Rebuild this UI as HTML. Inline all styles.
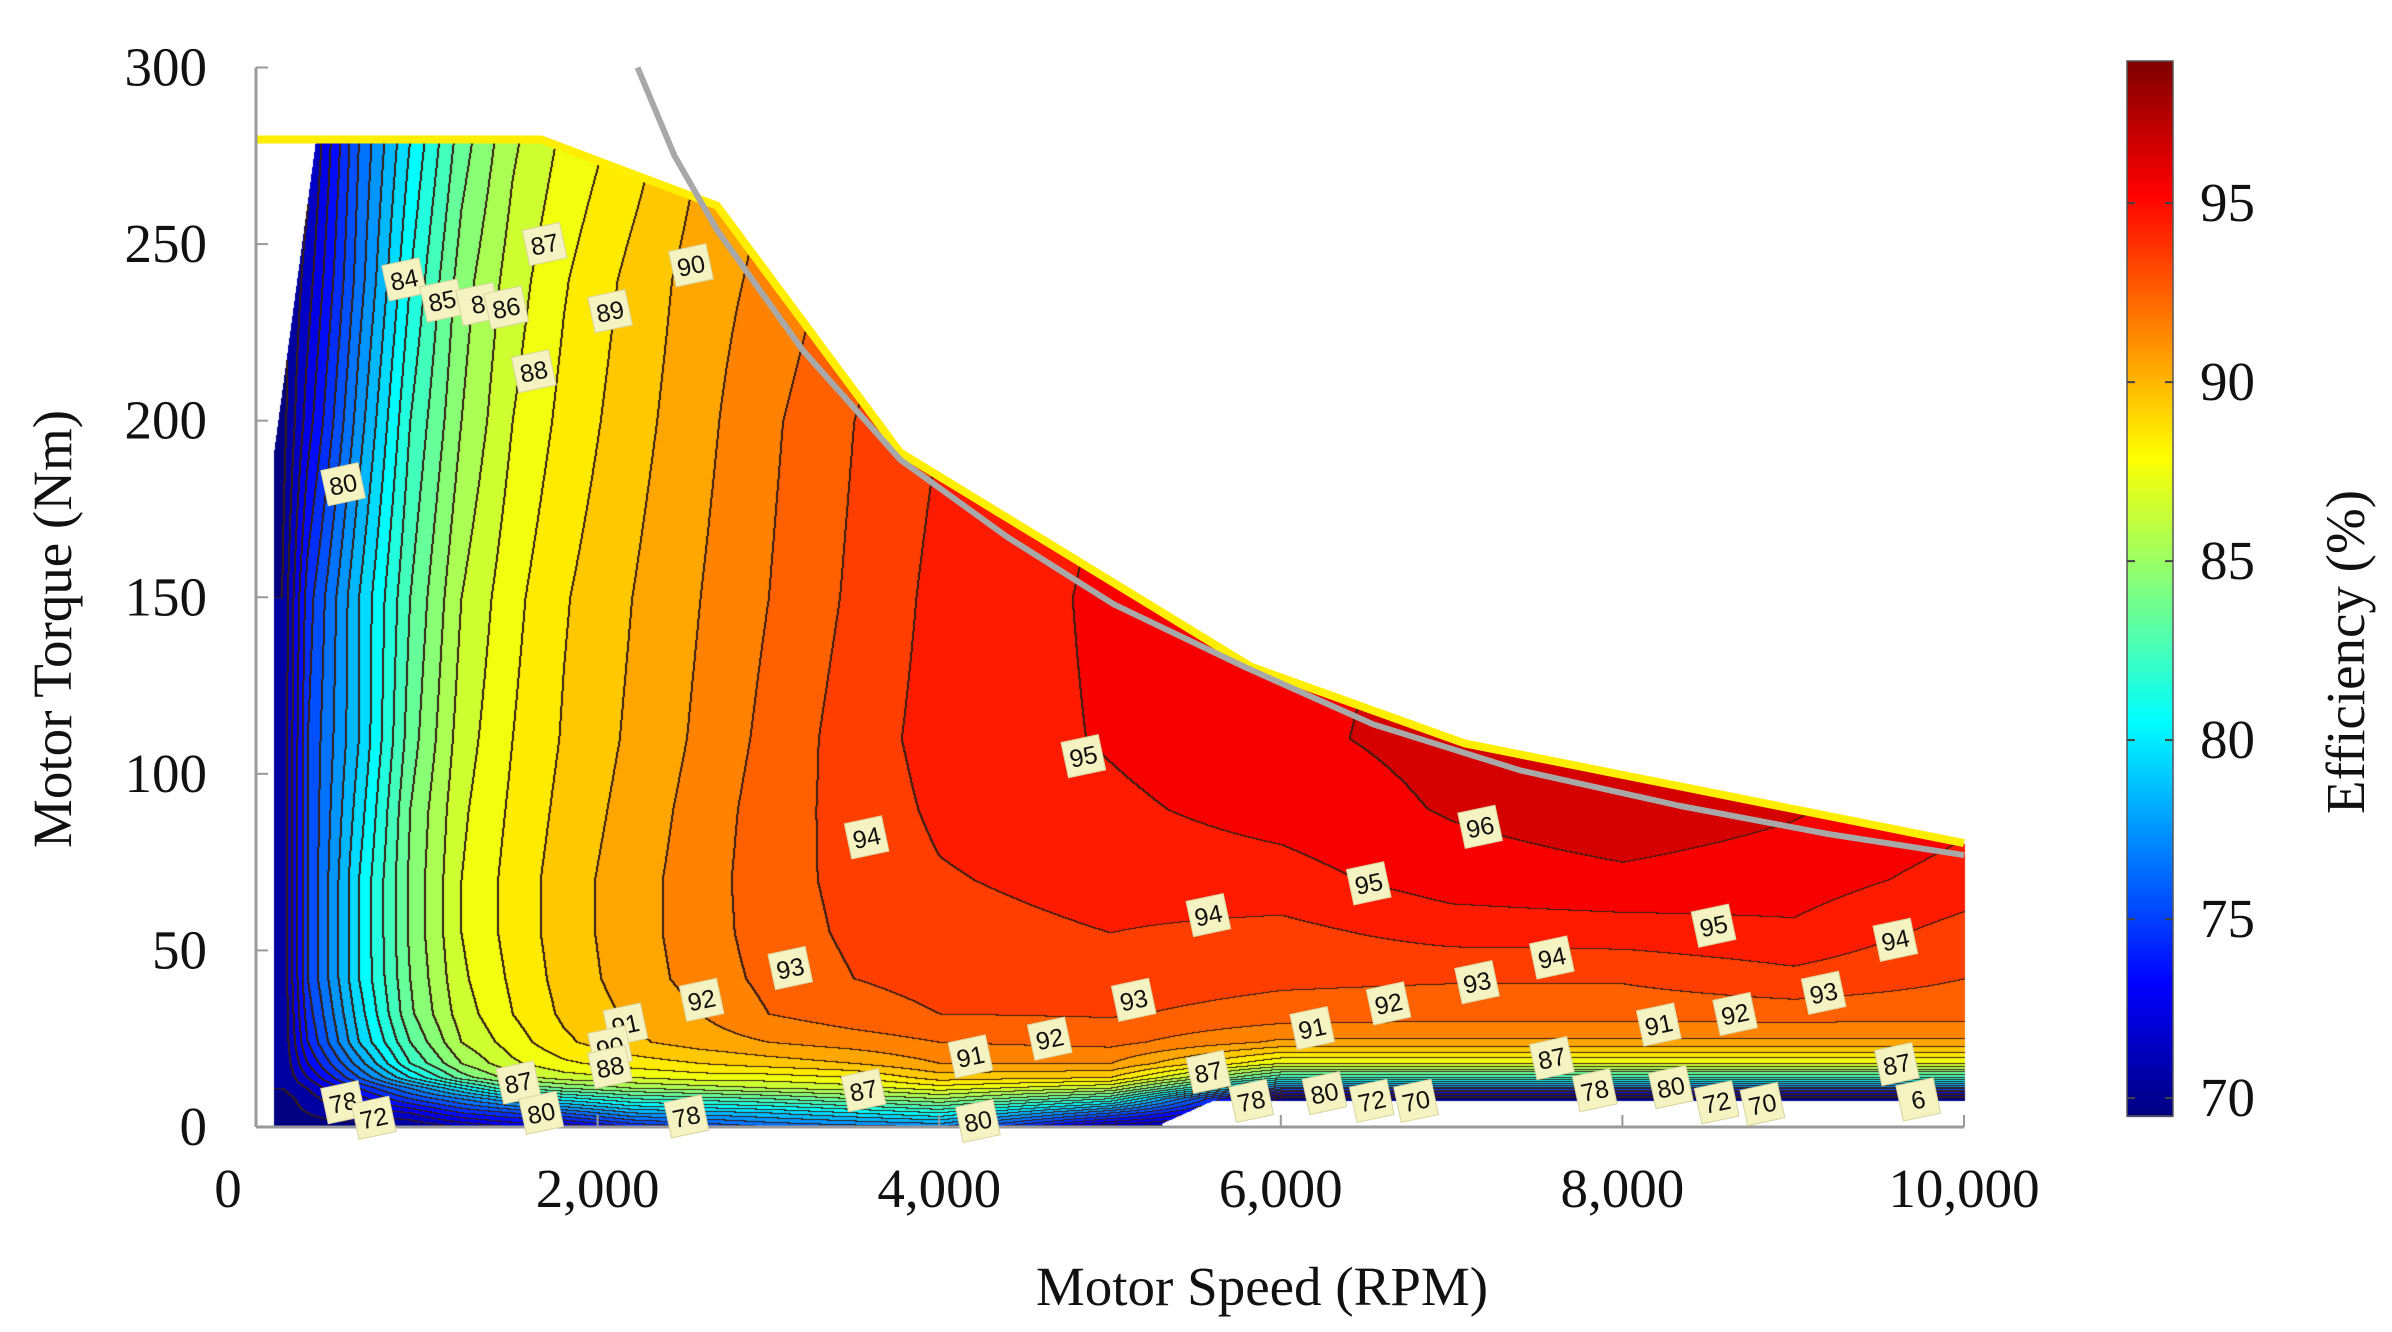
<!DOCTYPE html>
<html><head><meta charset="utf-8">
<style>
html,body{margin:0;padding:0;background:#fff;}
#wrap{position:relative;width:2392px;height:1332px;overflow:hidden;background:#fff;}
canvas,svg{position:absolute;left:0;top:0;}
text{font-family:"Liberation Serif",serif;fill:#111;}
</style></head>
<body>
<div id="wrap">
<canvas id="cv" width="2392" height="1332"></canvas>
<svg id="sv" width="2392" height="1332" viewBox="0 0 2392 1332"></svg>
</div>
<script>
// ---- data ----
const speeds = [150,300,600,900,1200,1500,1800,2200,2600,3000,3500,4000,5000,6000,7000,8000,9000,10000];
const torques = [0,4,8,11,14,18,24,32,42,55,70,90,110,150,200,240,280];
const effT0   = [69.5,69.5,69.5,70,71,72,72,74,75,76,76.5,77,71,69.5,69.5,69.5,69.5,69.5];
const effT4   = [69.5,70,71,72,74,75,76,78,78.5,79,80,81,76,69.5,69.5,69.5,69.5,69.5];
const effT8   = [69.5,70.5,72.5,75,77,79,80.5,82,82.5,83,84,85,82,69.5,69.5,69.5,69.5,69.5];
const effT11  = [70,71,74,77,80,83,84,85,85.5,86,86.5,87.5,86,76.5,76.5,76.5,76.5,76.5];
const effT14  = [70,72,76,80,83.5,85.5,86.5,87,87.5,87.5,88,89.5,89,82,82,82,82,82];
const effT18  = [70,73,77.5,82,85,86.8,87.8,88.5,89,89.5,90,91,91,87,87,87,87,87];
const effT24  = [70,74,79,83,86,87.5,88.8,89.8,90.5,91,91.5,92,92.3,90.8,90.8,90.8,90.8,90.8];
const effT32  = [70,74.5,79.5,83.8,86.5,88,89.2,90.2,91,92,92.6,93,93.1,92.6,92.4,92.4,92.5,92.4];
const effT42  = [70,75,80,84,86.8,88.2,89.4,90.5,91.4,92.3,93,93.3,93.5,93.2,93.1,93.1,93.7,93.0];
const effT55  = [70,75,80,84.2,87,88.4,89.5,90.6,91.5,92.5,93.2,93.6,94.0,93.7,94.4,94.5,94.8,93.6];
const effT70  = [70,75,80,84.2,87,88.4,89.5,90.6,91.5,92.6,93.3,93.9,94.4,94.6,95.5,95.8,95.5,94.6];
const effT90  = [70,75,79.5,84,86.8,88.2,89.3,90.4,91.4,92.5,93.4,94.2,94.8,95.4,96.1,96.6,96.1,95.3];
const effT110 = [70,75,79,83.5,86.5,88,89.1,90.2,91.2,92.3,93.5,94.4,95.1,95.8,96.3,96.5,96.2,95.6];
const effT150 = [70,74.5,79,83,86,87.7,88.9,90,91,92,93.2,94.3,95.2,95.7,96.2,96.2,96,96];
const effT200 = [69.5,72.5,77.5,82,85,87,88.3,89.6,90.7,91.8,93,94,95,95.5,96,96,96,96];
const effT240 = [69.5,71.5,76.5,81,84.5,86.5,87.9,89.3,90.5,91.3,92.5,93.5,94.5,95,95.5,96,96,96];
const effT280 = [69.5,70.5,76,80,83.5,85.8,87.2,88.5,90,91,92,93,94,95,95.5,96,96,96];
const effRows = [effT0,effT4,effT8,effT11,effT14,effT18,effT24,effT32,effT42,effT55,effT70,effT90,effT110,effT150,effT200,effT240,effT280];
const envSpeed = [0,1671,2699,3771,5827,7078,10000];
const envTorque = [279.6,279.6,260.9,191,130.3,108.6,80.4];
const curveSpeed = [2234,2450,2699,3200,3771,4400,5022,5800,6542,7400,8329,9200,10000];
const curveTorque = [300,275,254,220,189,167,148,130,114,101,91,83,77];
const xTicks = [0,2000,4000,6000,8000,10000];
const xTickLabels = ["0","2,000","4,000","6,000","8,000","10,000"];
const yTicks = [0,50,100,150,200,250,300];
const cbTicks = [70,75,80,85,90,95];
const labelSpeed = [510,1690,2547,2073,1626,867,1090,1300,1465,4844,3575,7167,6515,5576,8534,7587,9598,3128,5139,7149,9178,2609,4647,6631,8660,2163,4183,6184,8213,2073,2073,1537,3557,5576,7587,9607,510,690,1670,2520,4227,5827,6256,6533,6792,7838,8284,8552,8820,9732];
const labelTorque = [182,250,244,231,214,240,234,233,232,105,82,85,69,60,57,48,53,45,36,41,38,36,25,35,32,29,20,28,29,22.6,17,12.6,10.4,15.6,19.5,17.8,7,2.6,4,3,1.7,7.4,9.6,7.4,7.4,10.4,11.3,7,6.5,7.8];
const labelText = ["80","87","90","89","88","84","85","8","86","95","94","96","95","94","95","94","94","93","93","93","93","92","92","92","92","91","91","91","91","90","88","87","87","87","87","87","78","72","80","78","80","78","80","72","70","78","80","72","70","6"];

// ---- axes ----
const X0=256, X1=1964, Y0=1127, Y1=67.5;
const xs = s => X0 + s*(X1-X0)/10000;
const ys = t => Y0 - t*(Y0-Y1)/300;
const CBX=2127, CBW=46, CBT=61, CBB=1116, CBMAX=98.97, CBMIN=69.5;
const cby = v => CBT + (CBMAX-v)/(CBMAX-CBMIN)*(CBB-CBT);

function interp1(xa, ya, x){
  if(x<=xa[0]) return ya[0];
  for(let i=0;i<xa.length-1;i++){ if(x<=xa[i+1]){const f=(x-xa[i])/(xa[i+1]-xa[i]);return ya[i]+f*(ya[i+1]-ya[i]);} }
  return ya[ya.length-1];
}
function idx(a,v){ if(v<=a[0]) return [0,0]; for(let i=0;i<a.length-1;i++){ if(v<=a[i+1]) return [i,(v-a[i])/(a[i+1]-a[i])]; } return [a.length-2,1]; }
function eff(s,t){
  const [i,fx]=idx(speeds,s), [j,fy]=idx(torques,t);
  const a=effRows[j][i], b=effRows[j][i+1], c=effRows[j+1][i], d=effRows[j+1][i+1];
  return (a*(1-fx)+b*fx)*(1-fy)+(c*(1-fx)+d*fx)*fy;
}
function valid(s,t){
  if(t<0||s>10000) return false;
  if(t>interp1(envSpeed,envTorque,s)) return false;
  const left = t<=190?100:100+(t-190)/90*250;
  if(s<left) return false;
  let low = s<5300?0:(s<5600?1+(s-5300)/300*6.5:7.5);
  if(t<low) return false;
  return true;
}
function jet(f){
  const c=v=>Math.max(0,Math.min(1,v));
  return [c(1.5-Math.abs(4*f-3))*255, c(1.5-Math.abs(4*f-2))*255, c(1.5-Math.abs(4*f-1))*255];
}
const colOf = v => jet((v-CBMIN)/(CBMAX-CBMIN));

// ---- draw field ----
const cv=document.getElementById('cv'), ctx=cv.getContext('2d');
const W=2392,H=1332;
const img=ctx.createImageData(W,H);
const px0=Math.floor(X0), px1=Math.ceil(X1), py0=Math.floor(Y1), py1=Math.ceil(Y0);
const lev=new Int16Array(W*H).fill(-1);
for(let y=py0;y<=py1;y++){
  const t=(Y0-y)*300/(Y0-Y1);
  for(let x=px0;x<=px1;x++){
    const s=(x-X0)*10000/(X1-X0);
    if(!valid(s,t)) continue;
    const v=eff(s,t);
    const L=Math.floor(v);
    lev[y*W+x]=L;
    const c=colOf(Math.max(CBMIN,Math.min(CBMAX,L+0.5)));
    const k=(y*W+x)*4; img.data[k]=c[0];img.data[k+1]=c[1];img.data[k+2]=c[2];img.data[k+3]=255;
  }
}
for(let y=py0;y<py1;y++){
  for(let x=px0;x<px1;x++){
    const a=lev[y*W+x]; if(a<0) continue;
    const r=lev[y*W+x+1], d=lev[(y+1)*W+x];
    if((r>=0&&r!==a)||(d>=0&&d!==a)){
      for(const q of [y*W+x,(y)*W+x+1]){const k=q*4; img.data[k]=55;img.data[k+1]=30;img.data[k+2]=20;img.data[k+3]=255;}
    }
  }
}
// colorbar
for(let y=CBT;y<=CBB;y++){
  const v=CBMAX-(y-CBT)/(CBB-CBT)*(CBMAX-CBMIN);
  const c=colOf(v);
  for(let x=CBX;x<CBX+CBW;x++){const k=(y*W+x)*4;img.data[k]=c[0];img.data[k+1]=c[1];img.data[k+2]=c[2];img.data[k+3]=255;}
}
ctx.putImageData(img,0,0);

// ---- svg overlay ----
const NS='http://www.w3.org/2000/svg', sv=document.getElementById('sv');
function mk(tag,attrs,parent){const e=document.createElementNS(NS,tag);for(const k in attrs)e.setAttribute(k,attrs[k]);(parent||sv).appendChild(e);return e;}

const envPts=envSpeed.map((s,i)=>xs(s)+','+ys(envTorque[i])).join(' ');
const env=mk('polyline',{points:envPts,fill:'none',stroke:'#ffee00','stroke-width':8,'stroke-linejoin':'round'});


const cPts=curveSpeed.map((s,i)=>xs(s)+','+ys(curveTorque[i])).join(' ');
const gc=mk('polyline',{points:cPts,fill:'none',stroke:'#a8a8a8','stroke-width':6,'stroke-linejoin':'round'});



const ax=mk('g',{});


mk('line',{x1:X0,y1:Y1,x2:X0,y2:Y0,stroke:'#9a9a9a','stroke-width':3},ax);
mk('line',{x1:X0,y1:Y0,x2:X1,y2:Y0,stroke:'#9a9a9a','stroke-width':3},ax);
yTicks.forEach(v=>{
  mk('line',{x1:X0,y1:ys(v),x2:X0+12,y2:ys(v),stroke:'#9a9a9a','stroke-width':2},ax);
  const t=mk('text',{x:207,y:ys(v)+18,'font-size':55,'text-anchor':'end'},ax);
  t.textContent=String(v);
  
  
});
xTicks.forEach((v,i)=>{
  mk('line',{x1:xs(v),y1:Y0,x2:xs(v),y2:Y0-12,stroke:'#9a9a9a','stroke-width':2},ax);
  const t=mk('text',{x:xs(v)+(i===0?-28:0),y:1207,'font-size':55,'text-anchor':'middle'},ax);
  t.textContent=xTickLabels[i];
  
  
});
const xt=mk('text',{x:1262,y:1305,'font-size':55,'text-anchor':'middle'});
xt.textContent='Motor Speed (RPM)';


const yt=mk('text',{x:0,y:0,'font-size':55,'text-anchor':'middle',transform:'translate(71,629) rotate(-90)'});
yt.textContent='Motor Torque (Nm)';



const cb=mk('g',{});


mk('rect',{x:CBX,y:CBT,width:CBW,height:CBB-CBT,fill:'none',stroke:'#555','stroke-width':1.5},cb);
cbTicks.forEach(v=>{
  mk('line',{x1:CBX,y1:cby(v),x2:CBX+8,y2:cby(v),stroke:'#444','stroke-width':2},cb);
  mk('line',{x1:CBX+CBW-8,y1:cby(v),x2:CBX+CBW,y2:cby(v),stroke:'#444','stroke-width':2},cb);
  const t=mk('text',{x:2200,y:cby(v)+18,'font-size':55},cb);
  t.textContent=String(v);
  
  
});
const ct=mk('text',{x:0,y:0,'font-size':55,'text-anchor':'middle',transform:'translate(2364,652) rotate(-90)'});
ct.textContent='Efficiency (%)';



const lg=mk('g',{});


labelText.forEach((txt,i)=>{
  const cx=xs(labelSpeed[i]), cy=ys(labelTorque[i]);
  const g=mk('g',{transform:'rotate(-12 '+cx+' '+cy+')'},lg);
  
  
  mk('rect',{x:cx-19,y:cy-18,width:38,height:36,fill:'#f6f3c2',stroke:'#d8d4a0','stroke-width':1},g);
  const t=mk('text',{x:cx,y:cy+9,'font-size':25,'text-anchor':'middle'},g);
  t.style.fontFamily='"Liberation Sans",sans-serif';
  t.textContent=txt;
});
</script>
</body></html>
